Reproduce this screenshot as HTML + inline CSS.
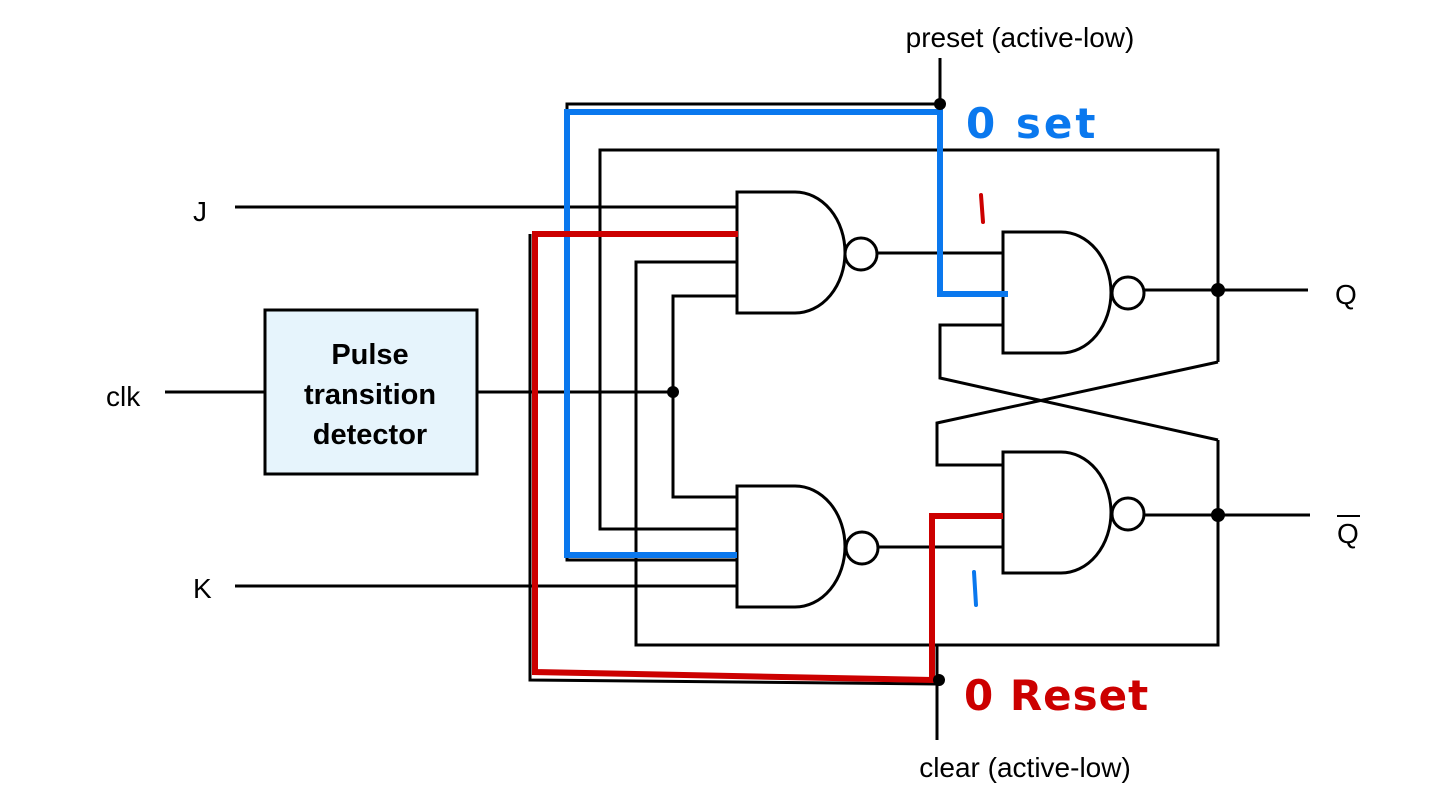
<!DOCTYPE html>
<html><head><style>body{margin:0;background:#fff}svg{display:block}</style></head><body>
<svg width="1440" height="795" xmlns="http://www.w3.org/2000/svg" font-family="Liberation Sans, Arial, sans-serif">
<g stroke="#000" stroke-width="3" fill="none">
<line x1="235" y1="207" x2="737" y2="207"/>
<line x1="533" y1="234" x2="737" y2="234"/>
<polyline points="737,262 636,262 636,645 1218,645 1218,440"/>
<polyline points="737,296 673,296 673,497 737,497"/>
<polyline points="737,529 600,529 600,150 1218,150 1218,362"/>
<polyline points="737,560 567,560 567,104 940,104"/>
<line x1="235" y1="586" x2="737" y2="586"/>
<line x1="165" y1="392" x2="265" y2="392"/>
<line x1="477" y1="392" x2="673" y2="392"/>
<line x1="940" y1="58" x2="940" y2="104"/>
<polyline points="530,234 530,680 937,684"/>
<line x1="937" y1="645" x2="937" y2="740"/>
<path d="M737,192 H795 A50,60.5 0 0 1 795,313 H737 Z" fill="#fff"/>
<circle cx="861" cy="254" r="16" fill="#fff"/>
<line x1="877" y1="253" x2="1003" y2="253"/>
<path d="M737,486 H795 A50,60.5 0 0 1 795,607 H737 Z" fill="#fff"/>
<circle cx="862" cy="548" r="16" fill="#fff"/>
<line x1="878" y1="547" x2="1003" y2="547"/>
<path d="M1003,232 H1061 A50,60.5 0 0 1 1061,353 H1003 Z" fill="#fff"/>
<circle cx="1128" cy="293" r="16" fill="#fff"/>
<line x1="1144" y1="290" x2="1308" y2="290"/>
<path d="M1003,452 H1061 A50,60.5 0 0 1 1061,573 H1003 Z" fill="#fff"/>
<circle cx="1128" cy="514" r="16" fill="#fff"/>
<line x1="1144" y1="515" x2="1310" y2="515"/>
<polyline points="1003,325 940,325 940,378 1218,440"/>
<polyline points="1003,465 937,465 937,423 1218,362"/>
<line x1="1218" y1="150" x2="1218" y2="362"/>
</g>
<g fill="none" stroke-width="6" stroke-linejoin="miter">
<polyline stroke="#0a78ee" points="737,555 567,555 567,112 940,112 940,294 1008,294"/>
<polyline stroke="#cc0000" points="738,234 535,234 535,672 932,680 932,516 1003,516"/>
</g>
<g fill="#000">
<circle cx="940" cy="104" r="6"/><circle cx="673" cy="392" r="6"/>
<circle cx="1218" cy="290" r="7"/><circle cx="1218" cy="515" r="7"/>
<circle cx="939" cy="680" r="6"/>
</g>
<rect x="265" y="310" width="212" height="164" fill="#e6f4fc" stroke="#000" stroke-width="3"/>
<g font-size="29" font-weight="bold" text-anchor="middle">
<text x="370" y="364">Pulse</text><text x="370" y="404">transition</text><text x="370" y="444">detector</text>
</g>
<g font-size="28">
<text x="1020" y="47" text-anchor="middle">preset (active-low)</text>
<text x="1025" y="777" text-anchor="middle">clear (active-low)</text>
<text x="193" y="221">J</text><text x="193" y="598">K</text>
<text x="106" y="406">clk</text>
<text x="1335" y="304">Q</text>
<text x="1337" y="543">Q</text>
</g>
<line x1="1337" y1="516" x2="1360" y2="516" stroke="#000" stroke-width="2"/>
<g font-family="DejaVu Sans, sans-serif" font-weight="bold">
<text x="966" y="138" font-size="42" fill="#0a78ee" letter-spacing="3">0 set</text>
<text x="964" y="710" font-size="42" fill="#cc0000" letter-spacing="1">0 Reset</text>
</g>
<line x1="981" y1="195" x2="983" y2="222" stroke="#cc0000" stroke-width="4" stroke-linecap="round"/>
<line x1="974" y1="572" x2="976" y2="605" stroke="#0a78ee" stroke-width="4" stroke-linecap="round"/>
</svg>
</body></html>
